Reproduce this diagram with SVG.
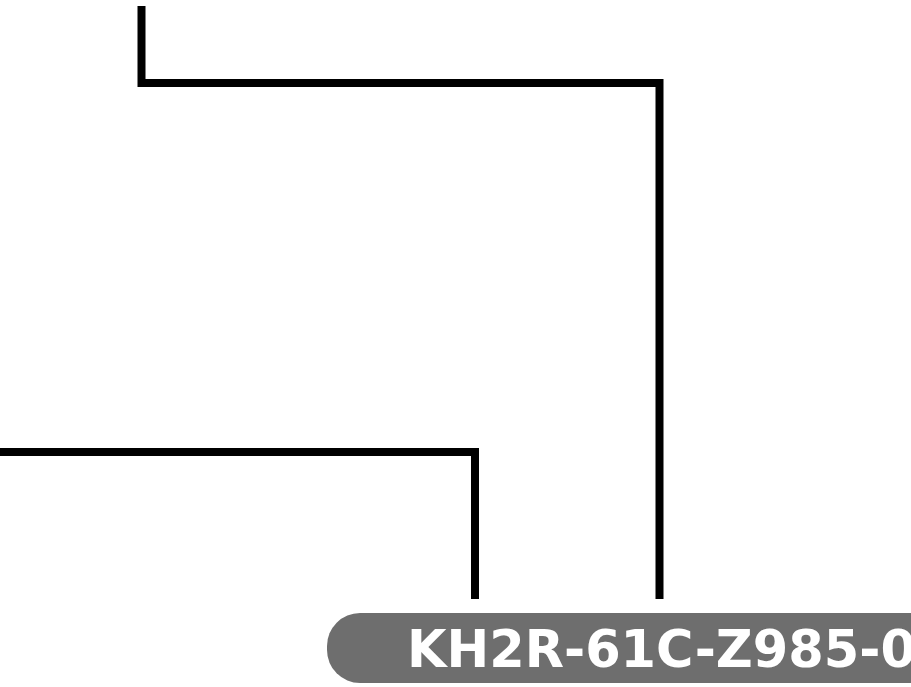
<svg xmlns="http://www.w3.org/2000/svg" width="911" height="687" viewBox="0 0 911 687">
<style>
.wire{fill:none;stroke:#000;stroke-width:8;stroke-linejoin:miter;stroke-linecap:butt}
.tag{fill:#6e6e6e}
.tagtext{fill:#fff;font-family:"DejaVu Sans","Liberation Sans",sans-serif;font-weight:bold;font-size:51px;letter-spacing:0px}
</style>
<rect width="911" height="687" fill="#fff"/>
<g id="connectors">
<path class="wire" d="M141.5 6 V83 H659.5 V599"/>
<path class="wire" d="M0 452 H475 V599"/>
</g>
<g id="label">
<rect class="tag" x="327" y="613" width="700" height="70" rx="33" ry="33"/>
<text class="tagtext" x="407" y="667">KH2R-61C-Z985-0</text>
</g>
</svg>
